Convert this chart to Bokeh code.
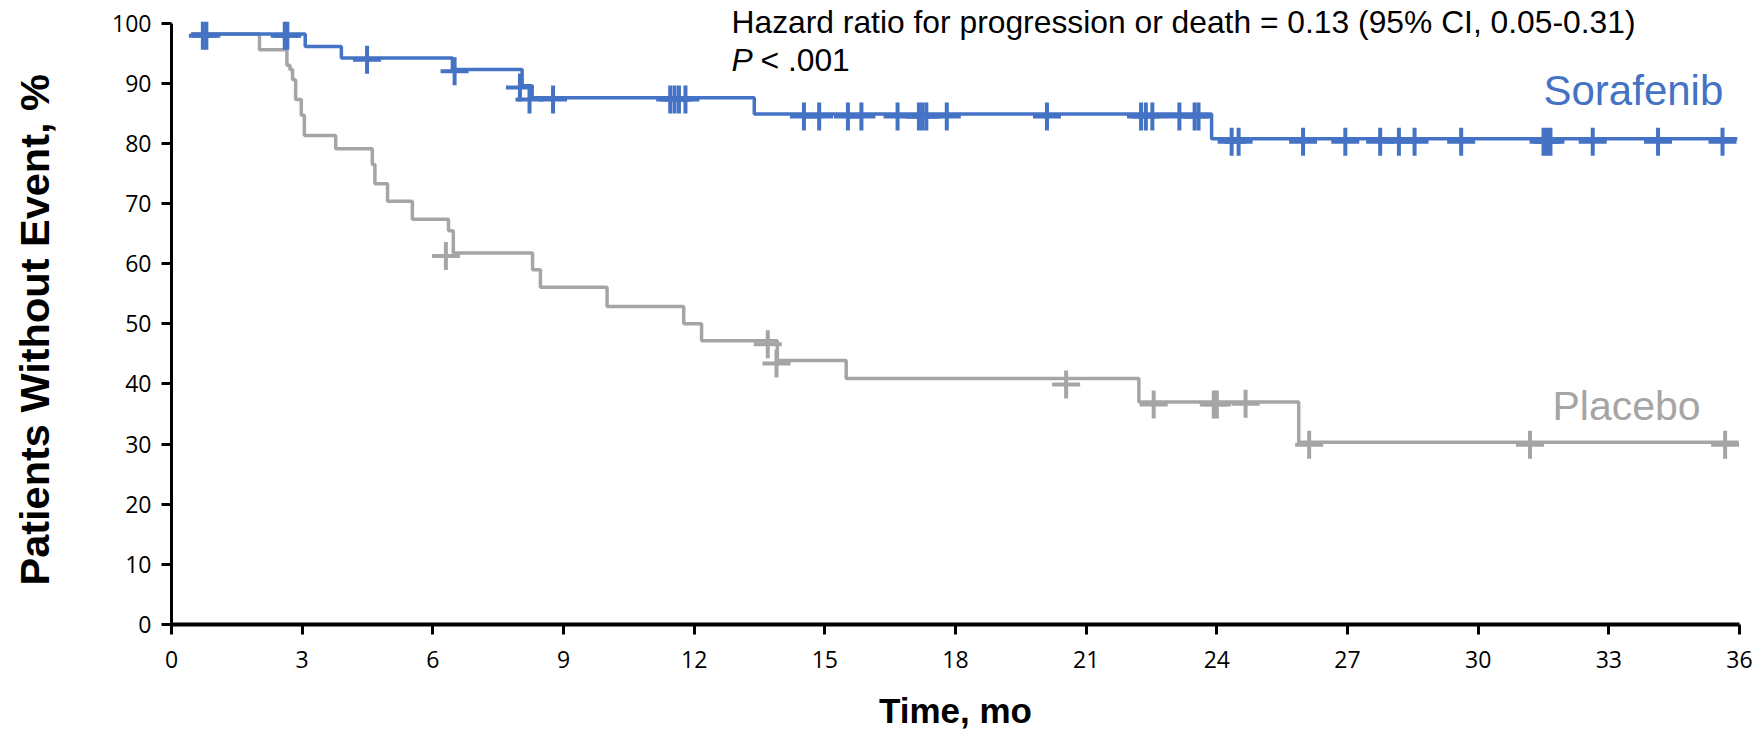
from bokeh.plotting import figure
from bokeh.models import FixedTicker, Range1d, Label
from bokeh.embed import file_html
from bokeh.resources import INLINE

# ---------------- data ----------------
x_ticks = [0, 3, 6, 9, 12, 15, 18, 21, 24, 27, 30, 33, 36]
y_ticks = [0, 10, 20, 30, 40, 50, 60, 70, 80, 90, 100]

sorafenib_time = [0.45, 3.07, 3.9, 6.45, 8.05, 8.28, 13.38, 23.88, 35.95]
sorafenib_surv = [98.2, 96.1, 94.2, 92.3, 89.6, 87.6, 84.9, 80.8, 80.8]

sorafenib_cens_time = [0.72, 0.8, 2.6, 2.66, 4.49, 6.5, 8.0, 8.22, 8.76,
                       11.45, 11.55, 11.65, 11.8,
                       14.52, 14.87, 15.53, 15.84, 16.67, 17.16, 17.24, 17.33, 17.8,
                       20.1, 22.26, 22.37, 22.52, 23.14, 23.49, 23.58,
                       24.34, 24.5, 25.98, 26.95, 27.75, 28.18, 28.54, 29.61,
                       31.5, 31.58, 31.66, 32.63, 34.13, 35.61]
sorafenib_cens_surv = [97.9, 97.9, 97.9, 97.9, 93.9, 92.0, 89.3, 87.3, 87.3,
                       87.3, 87.3, 87.3, 87.3,
                       84.5, 84.5, 84.5, 84.5, 84.5, 84.5, 84.5, 84.5, 84.5,
                       84.5, 84.5, 84.5, 84.5, 84.5, 84.5, 84.5,
                       80.3, 80.3, 80.3, 80.3, 80.3, 80.3, 80.3, 80.3,
                       80.3, 80.3, 80.3, 80.3, 80.3, 80.3]

placebo_time = [0.45, 2.02, 2.65, 2.72, 2.78, 2.85, 2.98, 3.05, 3.77, 4.61, 4.67,
                4.96, 5.53, 6.36, 6.47, 8.29, 8.47, 10.0, 11.76, 12.17, 13.91,
                15.49, 22.21, 25.88, 35.98]
placebo_surv = [98.2, 95.6, 93.0, 92.3, 90.6, 87.3, 84.7, 81.3, 79.1, 76.5, 73.3,
                70.4, 67.4, 65.5, 61.8, 59.0, 56.1, 52.9, 50.0, 47.2, 43.9,
                40.9, 37.0, 30.3, 30.3]

placebo_cens_time = [6.3, 13.69, 13.89, 20.54, 22.55, 23.93, 24.0, 24.66, 26.12, 31.19, 35.67]
placebo_cens_surv = [61.3, 46.6, 43.4, 39.9, 36.6, 36.6, 36.6, 36.7, 29.9, 29.9, 29.9]

BLUE = "#4472C4"
GRAY = "#A5A5A5"
FONT = "Liberation Sans"
TICK_FONT = "Open Sans"
NBSP = "\u00a0"

W, H = 1762, 736
p = figure(width=W, height=H, output_backend="svg", toolbar_location=None,
           x_range=Range1d(0, 36), y_range=Range1d(0, 103.77),
           min_border_left=171, min_border_right=23, min_border_top=0,
           min_border_bottom=112)
p.outline_line_color = None
p.grid.visible = False
p.background_fill_color = "white"
p.border_fill_color = "white"

# axes
p.xaxis.ticker = FixedTicker(ticks=x_ticks)
p.yaxis.ticker = FixedTicker(ticks=y_ticks)
p.xaxis.bounds = (0, 36)
p.yaxis.bounds = (0, 100)
for ax in (p.xaxis, p.yaxis):
    ax.axis_line_color = "black"
    ax.major_tick_line_color = "black"
    ax.major_tick_line_width = 3
    ax.major_tick_in = 0
    ax.major_tick_out = 10
    ax.minor_tick_line_color = None
    ax.major_label_text_font = TICK_FONT
    ax.major_label_text_font_size = "23px"
    ax.major_label_text_color = "black"
    ax.axis_label_text_font = FONT
    ax.axis_label_text_font_style = "bold"
    ax.axis_label_text_color = "black"
p.xaxis.axis_line_width = 4
p.yaxis.axis_line_width = 3
p.xaxis.major_label_standoff = 16
p.yaxis.major_label_standoff = 10
p.xaxis.axis_label = "Time, mo"
p.xaxis.axis_label_text_font_size = "35px"
p.xaxis.axis_label_standoff = 20
# trailing no-break spaces nudge the centred title slightly downward, as in the reference
p.yaxis.axis_label = "Patients Without Event, %" + NBSP * 3
p.yaxis.axis_label_text_font_size = "41.5px"
p.yaxis.axis_label_standoff = 51

# curves
p.step(placebo_time, placebo_surv, mode="after", line_color=GRAY, line_width=3.5)
p.scatter(placebo_cens_time, placebo_cens_surv, marker="cross", size=28,
          line_color=GRAY, line_width=4)
p.step(sorafenib_time, sorafenib_surv, mode="after", line_color=BLUE, line_width=3.5)
p.scatter(sorafenib_cens_time, sorafenib_cens_surv, marker="cross", size=28,
          line_color=BLUE, line_width=4)

FL, FB = 171, 624  # frame left / bottom in page pixels
DY = 15            # empirical baseline correction


def lab(text, px, py, size, color="black", style="normal"):
    # px, py: page pixel position (from top-left), converted to frame-relative screen units
    p.add_layout(Label(x=px - FL, y=FB - py + DY, x_units="screen", y_units="screen",
                       text=text, text_font=FONT, text_font_size=size, text_color=color,
                       text_font_style=style, text_align="left",
                       text_baseline="alphabetic"))


# annotations
lab("Hazard ratio for progression or death = 0.13 (95% CI, 0.05-0.31)", 731, 36.7, "31.8px")
lab("P", 731, 74, "31.8px", style="italic")
lab("< .001", 760, 74, "31.8px")
lab("Sorafenib", 1543, 105, "42px", color=BLUE)
lab("Placebo", 1552, 420, "41px", color=GRAY)

open("out.html", "w").write(file_html(p, INLINE))
